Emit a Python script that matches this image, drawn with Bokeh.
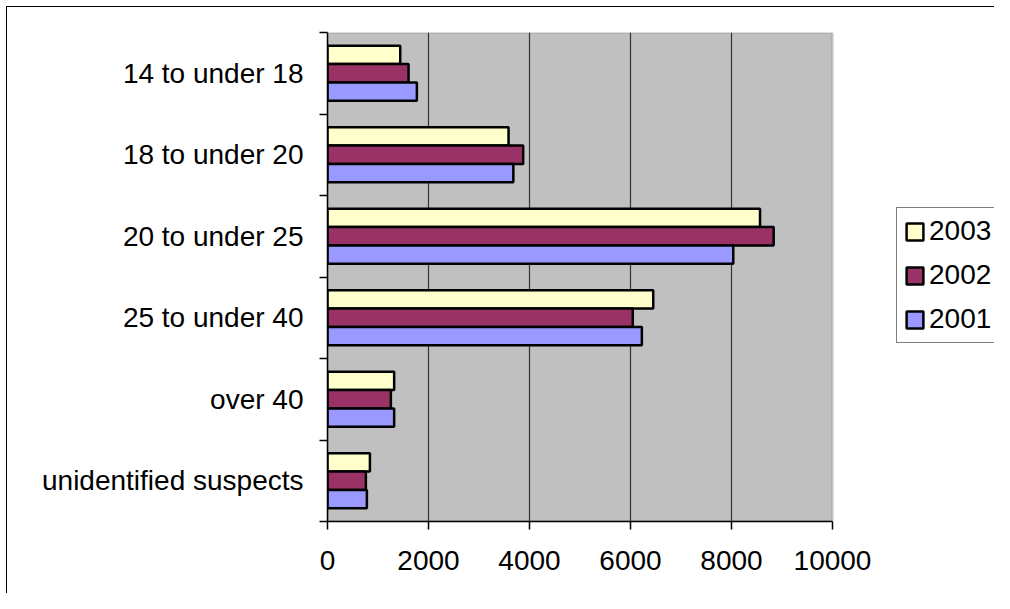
import numpy as np
from bokeh.plotting import figure
from bokeh.models import (Range1d, FixedTicker, Legend, LegendItem, ColumnDataSource,
                          InlineStyleSheet, BoxAnnotation)
from bokeh.embed import file_html
from bokeh.resources import INLINE

# ---- data (top to bottom as in the chart) ----
categories = ["14 to under 18", "18 to under 20", "20 to under 25",
              "25 to under 40", "over 40", "unidentified suspects"]
y2003 = [1440, 3585, 8565, 6450, 1320, 840]
y2002 = [1605, 3875, 8835, 6045, 1255, 760]
y2001 = [1770, 3680, 8035, 6225, 1320, 780]
x_ticks = [0, 2000, 4000, 6000, 8000, 10000]
series_names = ["2003", "2002", "2001"]
colors = ["#FFFFCC", "#993366", "#9999FF"]

n = len(categories)
cat_rev = categories[::-1]
centers = [i + 0.5 for i in range(n)]
bounds = list(range(n + 1))
x_max = x_ticks[-1]

FONT = "Liberation Sans"
FS = "28px"

W, H = 994, 593
LEFT, TOP, BOTTOM = 327, 32, 72
PLOT_W = 505                      # pixel width of the grey plot area
frame_w = W - LEFT
x_view_end = x_max * frame_w / PLOT_W   # frame extends to the right for the legend

p = figure(width=W, height=H, output_backend="svg", toolbar_location=None,
           x_range=Range1d(0, x_view_end), y_range=Range1d(0, n),
           min_border_left=LEFT, min_border_right=0, min_border_top=TOP,
           min_border_bottom=BOTTOM)

p.background_fill_color = "white"
p.border_fill_color = "white"
p.outline_line_color = None
p.stylesheets = [InlineStyleSheet(css=(
    ":host { position: relative; }"
    ":host::after { content: ''; position: absolute; left: 6px; top: 6px; "
    "right: 0; bottom: 0; border-left: 1.5px solid black; "
    "border-top: 1.5px solid black; pointer-events: none; z-index: 10; }"))]

# grey plot area
p.add_layout(BoxAnnotation(left=0, right=x_max, bottom=0, top=n,
                           fill_color="#C0C0C0", fill_alpha=1,
                           line_color="#808080", line_width=2.5, level="image"))

bar_h = 0.225
offsets = [bar_h, 0.0, -bar_h]
renderers = []
for vals, name, col, off in zip([y2003, y2002, y2001], series_names, colors, offsets):
    src = ColumnDataSource(dict(
        y=[centers[cat_rev.index(c)] + off for c in categories],
        right=vals))
    r = p.hbar(y="y", right="right", left=0, height=bar_h, source=src,
               fill_color=col, line_color="black", line_width=2.5)
    renderers.append(r)

# x axis
xa = p.xaxis[0]
xa.ticker = FixedTicker(ticks=x_ticks, minor_ticks=[])
xa.bounds = (0, x_max)
xa.axis_line_color = "black"
xa.axis_line_width = 1.5
xa.major_tick_out = 8
xa.major_tick_in = 0
xa.major_tick_line_width = 1.5
xa.major_label_text_font = FONT
xa.major_label_text_font_size = FS
xa.major_label_text_color = "black"
xa.major_label_standoff = 21

# y axis: labels at category centres, tick marks at category boundaries
ya = p.yaxis[0]
ya.ticker = FixedTicker(ticks=centers, minor_ticks=bounds)
ya.major_label_overrides = {c: lab for c, lab in zip(centers, cat_rev)}
ya.axis_line_color = "black"
ya.axis_line_width = 1.5
ya.major_tick_out = 0
ya.major_tick_in = 0
ya.minor_tick_out = 8
ya.minor_tick_in = 0
ya.minor_tick_line_color = "black"
ya.minor_tick_line_width = 1.5
ya.major_label_text_font = FONT
ya.major_label_text_font_size = FS
ya.major_label_text_color = "black"
ya.major_label_standoff = 16

p.xgrid.ticker = FixedTicker(ticks=x_ticks[:-1])
p.xgrid.grid_line_color = "#333333"
p.xgrid.grid_line_width = 1.2
p.ygrid.grid_line_color = None

legend = Legend(
    items=[LegendItem(label=nm, renderers=[r]) for nm, r in zip(series_names, renderers)],
    location=(569, 178),
    border_line_color="black", border_line_width=1,
    background_fill_color="white", background_fill_alpha=1,
    label_text_font=FONT, label_text_font_size=FS, label_text_color="black",
    glyph_width=21, glyph_height=21, label_standoff=4,
    padding=7, spacing=12, label_height=30, margin=0)
p.add_layout(legend, "center")

open("out.html", "w").write(file_html(p, INLINE))
